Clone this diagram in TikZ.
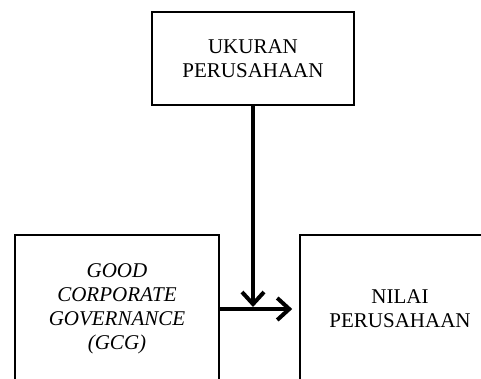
\documentclass[tikz,border=0pt]{standalone}
\usepackage{fontspec}
\setmainfont{Liberation Serif}
\usetikzlibrary{arrows.meta,calc}
\tikzset{
  varbox/.style={draw, line width=1.6pt, align=center, inner sep=0pt, font=\fontsize{21}{24}\selectfont},
  flow/.style={line width=4pt, -{Straight Barb[length=12pt,width=22pt]}}
}
\begin{document}
\begin{tikzpicture}[x=1pt, y=-1pt]
	\useasboundingbox (0,0) rectangle (481,379);
	\clip (0,0) rectangle (481,379);
	\node[varbox, minimum width=202pt, minimum height=93pt] (ukuran) at (253,58.5) {UKURAN\\PERUSAHAAN};
	\node[varbox, minimum width=204pt, minimum height=148pt] (gcg) at (117,309) {\itshape GOOD\\\itshape CORPORATE\\\itshape GOVERNANCE\\\itshape (GCG)};
	\node[varbox, minimum width=200pt, minimum height=148pt] (nilai) at (400,309) {NILAI\\PERUSAHAAN};
	\coordinate (meet) at (ukuran.south |- gcg.east);
	\draw[flow, shorten >=2pt] (ukuran.south) -- (meet);
	\draw[flow, shorten >=7pt] (gcg.east) -- (nilai.west);
\end{tikzpicture}
\end{document}
